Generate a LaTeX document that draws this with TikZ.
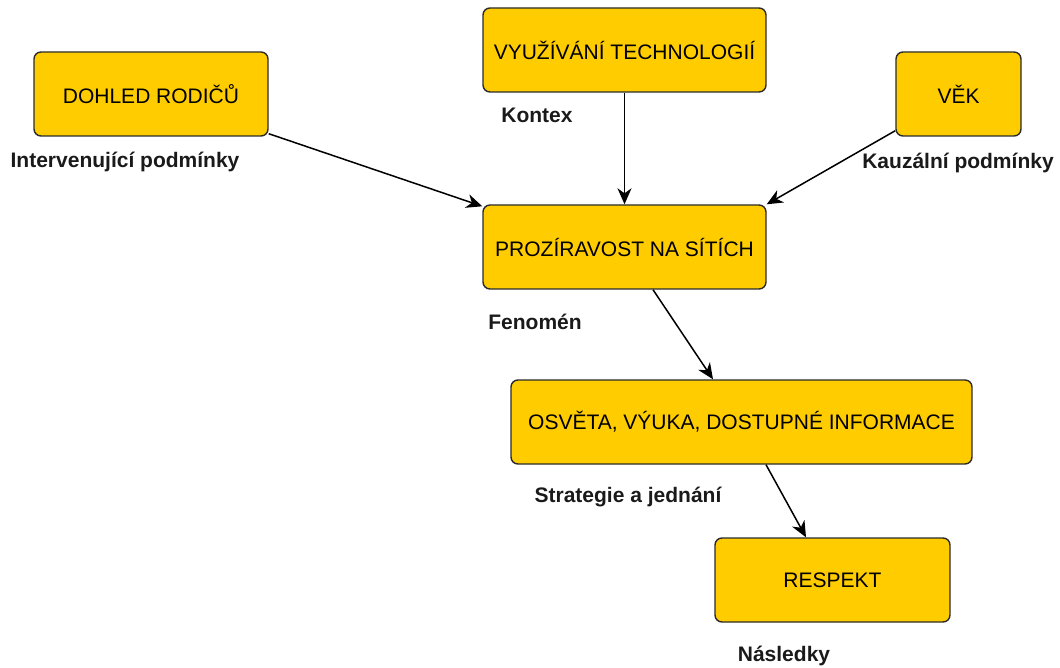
\documentclass[tikz,border=0pt]{standalone}
\usepackage{fontspec}
\setmainfont{Liberation Sans}
\usetikzlibrary{arrows.meta}
\definecolor{boxfill}{HTML}{FFCC00}
\definecolor{boxline}{HTML}{2B2B2B}
\definecolor{labtext}{HTML}{1A1A1A}
\tikzset{
  box/.style={draw=boxline, line width=1.4pt, fill=boxfill, rounded corners=7pt,
    minimum height=84pt, inner sep=0pt, font=\fontsize{21}{24}\selectfont, text=black},
  lab/.style={font=\bfseries\fontsize{21}{24}\selectfont, text=labtext, inner sep=0pt},
  conn/.style={draw=black, line width=1.5pt, -{Stealth[length=16pt,width=14pt,inset=5pt]}}
}
\begin{document}
\begin{tikzpicture}[x=1pt,y=-1pt]
\useasboundingbox (0,0) rectangle (1060,668);
\node[box, minimum width=234pt] (b1) at (151,94) {DOHLED RODIČŮ};
\node[box, minimum width=283pt] (b2) at (624.5,50) {VYUŽÍVÁNÍ TECHNOLOGIÍ};
\node[box, minimum width=125pt] (b3) at (958.5,94) {VĚK};
\node[box, minimum width=283pt] (b4) at (624.5,247) {PROZÍRAVOST NA SÍTÍCH};
\node[box, minimum width=461pt] (b5) at (741.5,422) {OSVĚTA, VÝUKA, DOSTUPNÉ INFORMACE};
\node[box, minimum width=235pt] (b6) at (832.5,580) {RESPEKT};

\node[lab] (l1) at (125,162) {Intervenující podmínky};
\node[lab] (l2) at (537,115) {Kontex};
\node[lab] (l3) at (958,163) {Kauzální podmínky};
\node[lab] (l4) at (535,322) {Fenomén};
\node[lab] (l5) at (628,497) {Strategie a jednání};
\node[lab] (l6) at (784,656) {Následky};

\draw[conn] ([yshift=3pt]b1.south east) -- ([yshift=-2pt]b4.north west);
\draw[conn] (b2.south) -- (b4.north);
\draw[conn] ([yshift=6pt]b3.south west) -- (b4.north east);
\draw[conn] ([xshift=28.5pt]b4.south) -- ([xshift=-28.5pt]b5.north);
\draw[conn] ([xshift=24.5pt]b5.south) -- ([xshift=-26.5pt]b6.north);
\end{tikzpicture}
\end{document}
